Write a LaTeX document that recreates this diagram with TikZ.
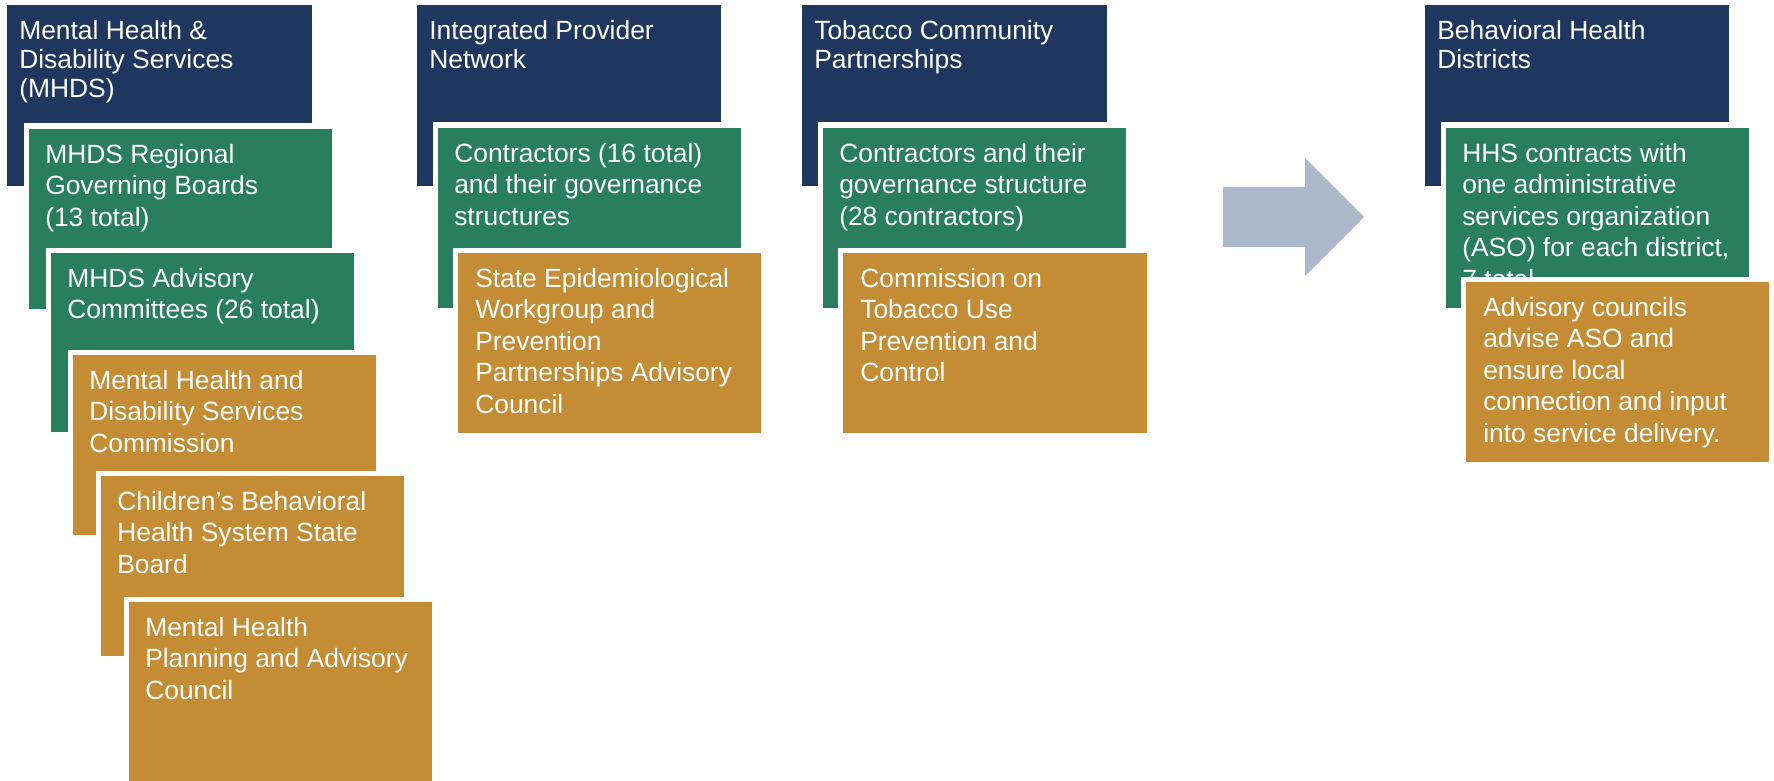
\documentclass[tikz,border=0pt]{standalone}
\usepackage{fontspec}
\setmainfont{Liberation Sans}

\begin{document}
\begin{tikzpicture}[x=0.75pt,y=0.75pt,yscale=-1,xscale=1,
  navybox/.style={draw=none,fill={rgb, 255:red, 31; green, 54; blue, 94 }},
  greenbox/.style={draw=none,fill={rgb, 255:red, 40; green, 126; blue, 95 },preaction={draw=white,line width=8.25pt}},
  goldbox/.style={draw=none,fill={rgb, 255:red, 196; green, 140; blue, 53 },preaction={draw=white,line width=8.25pt}},
  headtxt/.style={anchor=north west,inner sep=0.75pt,text=white,align=left,font=\fontsize{19.8}{21.75}\selectfont},
  bodytxt/.style={anchor=north west,inner sep=0.75pt,text=white,align=left,font=\fontsize{19.8}{23.6}\selectfont}]
\useasboundingbox (0,0) rectangle (1774,781);

%Shape: Rectangle
\draw  [navybox] (7,5) rectangle (312,186) ;
% Text Node
\draw (18,19) node [headtxt] (mhds) {Mental Health \&\\Disability Services\\(MHDS)};
%Shape: Rectangle
\draw  [greenbox] (29,129) rectangle (332,309) ;
% Text Node
\draw (44,143) node [bodytxt] (regboards) {MHDS Regional\\Governing Boards\\(13 total)};
%Shape: Rectangle
\draw  [greenbox] (51,253) rectangle (354,432) ;
% Text Node
\draw (66,267) node [bodytxt] (advcomm) {MHDS Advisory\\Committees (26 total)};
%Shape: Rectangle
\draw  [goldbox] (73,355) rectangle (376,535) ;
% Text Node
\draw (88,369) node [bodytxt] (mhdscomm) {Mental Health and\\Disability Services\\Commission};
%Shape: Rectangle
\draw  [goldbox] (101,476) rectangle (404,656) ;
% Text Node
\draw (116,490) node [bodytxt] (childboard) {Children’s Behavioral\\Health System State\\Board};
%Shape: Rectangle
\draw  [goldbox] (129,602) rectangle (432,790) ;
% Text Node
\draw (144,616) node [bodytxt] (planning) {Mental Health\\Planning and Advisory\\Council};

%Shape: Rectangle
\draw  [navybox] (417,5) rectangle (721,186) ;
% Text Node
\draw (428,19) node [headtxt] (ipn) {Integrated Provider\\Network};
%Shape: Rectangle
\draw  [greenbox] (438,128) rectangle (741,308) ;
% Text Node
\draw (453,142) node [bodytxt] (ipncontr) {Contractors (16 total)\\and their governance\\structures};
%Shape: Rectangle
\draw  [goldbox] (458,253) rectangle (761,433) ;
% Text Node
\draw (474,267) node [bodytxt] (sew) {State Epidemiological\\Workgroup and\\Prevention\\Partnerships Advisory\\Council};

%Shape: Rectangle
\draw  [navybox] (802,5) rectangle (1107,186) ;
% Text Node
\draw (813,19) node [headtxt] (tcp) {Tobacco Community\\Partnerships};
%Shape: Rectangle
\draw  [greenbox] (823,128) rectangle (1126,308) ;
% Text Node
\draw (838,142) node [bodytxt] (tcpcontr) {Contractors and their\\governance structure\\(28 contractors)};
%Shape: Rectangle
\draw  [goldbox] (843,253) rectangle (1147,433) ;
% Text Node
\draw (859,267) node [bodytxt] (tobcomm) {Commission on\\Tobacco Use\\Prevention and\\Control};

%Shape: Right Arrow
\draw  [fill={rgb, 255:red, 173; green, 185; blue, 202 }  ,draw opacity=0] (1223,187) -- (1305,187) -- (1305,158) -- (1364,217) -- (1305,276) -- (1305,247) -- (1223,247) -- cycle ;

%Shape: Rectangle
\draw  [navybox] (1425,5) rectangle (1729,186) ;
% Text Node
\draw (1436,19) node [headtxt] (bhd) {Behavioral Health\\Districts};
%Shape: Rectangle
\draw  [greenbox] (1446,128) rectangle (1749,308) ;
% Text Node
\draw (1461,142) node [bodytxt] (aso) {HHS contracts with\\one administrative\\services organization\\(ASO) for each district,\\7 total};
%Shape: Rectangle
\draw  [goldbox] (1466,282) rectangle (1769,462) ;
% Text Node
\draw (1482,296) node [bodytxt] (councils) {Advisory councils\\advise ASO and\\ensure local\\connection and input\\into service delivery.};

\end{tikzpicture}
\end{document}
